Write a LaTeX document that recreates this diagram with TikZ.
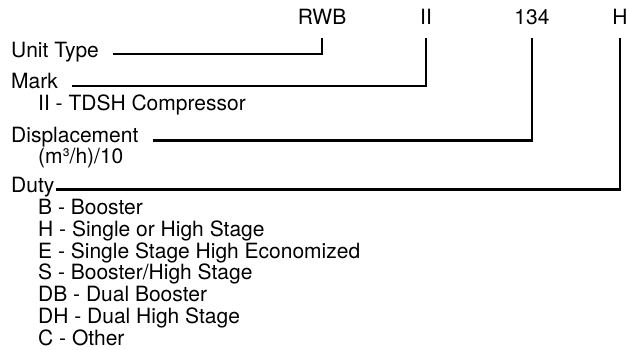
\documentclass[tikz,border=0pt]{standalone}
\usepackage{fontspec}
\setmainfont{TeX Gyre Heros}

\tikzset{
    code/.style={inner sep=0pt, anchor=base},
    lbl/.style={inner sep=0pt, anchor=base west},
    lead/.style={line width=2.2pt, line join=miter}
}

\begin{document}
\begin{tikzpicture}[x=1pt, y=-1pt, font=\fontsize{21}{21.7}\selectfont]

    \useasboundingbox (0,0) rectangle (628,349);

    \node[code] (rwb) at (322,24) {RWB};
    \node[code] (mk) at (426,24) {II};
    \node[code] (disp) at (532,24) {134};
    \node[code] (duty) at (620,24) {H};

    \node[lbl] (unit) at (11,57) {Unit Type};
    \node[lbl] (mark) at (11,88) {Mark};
    \node[lbl] (markdesc) at ([xshift=27pt,yshift=-22pt]mark.base west) {II - TDSH Compressor};
    \node[lbl] (displ) at (11,142) {Displacement};
    \node[lbl] (displdesc) at ([xshift=27pt,yshift=-21pt]displ.base west) {(m³/h)/10};
    \node[lbl] (dutyl) at (11,192) {Duty};
    % last line sits on the base anchor
    \node[lbl, align=left] (duties) at (38,345) {B - Booster\\
        H - Single or High Stage\\
        E - Single Stage High Economized\\
        S - Booster/High Stage\\
        DB - Dual Booster\\
        DH - Dual High Stage\\
        C - Other};

    \draw[lead] ([xshift=14pt,yshift=3pt]unit.base east) -| ([yshift=-14pt]rwb.base);
    \draw[lead] ([xshift=14pt,yshift=2pt]mark.base east) -| ([yshift=-14pt]mk.base);
    \draw[lead] ([xshift=14pt,yshift=1.5pt]displ.base east) -| ([yshift=-14pt]disp.base);
    \draw[lead] ([xshift=1pt,yshift=2.5pt]dutyl.base east) -| ([yshift=-14pt]duty.base);

\end{tikzpicture}
\end{document}
